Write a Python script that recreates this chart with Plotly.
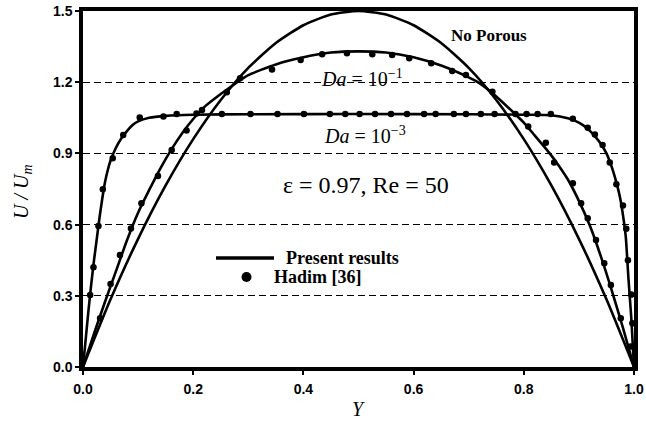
import plotly.graph_objects as go

# ---------------- data ----------------
# No porous (present results)
y_np = [0.0, 0.05, 0.10, 0.15, 0.20, 0.25, 0.30, 0.35, 0.40, 0.45, 0.50,
        0.55, 0.60, 0.65, 0.70, 0.75, 0.80, 0.85, 0.90, 0.95, 1.0]
u_np = [0.0, 0.285, 0.54, 0.765, 0.96, 1.125, 1.26, 1.365, 1.44, 1.485, 1.50,
        1.485, 1.44, 1.365, 1.26, 1.125, 0.96, 0.765, 0.54, 0.285, 0.0]

# Da = 1e-1 (present results)
y_d1 = [0.0, 0.02, 0.04, 0.06, 0.08, 0.10, 0.12, 0.14, 0.16, 0.18, 0.20, 0.22,
        0.25, 0.28, 0.30, 0.35, 0.40, 0.45, 0.50, 0.55, 0.60, 0.65, 0.70, 0.72,
        0.75, 0.78, 0.80, 0.82, 0.84, 0.86, 0.88, 0.90, 0.92, 0.94, 0.96, 0.98, 1.0]
u_d1 = [0.0, 0.14, 0.275, 0.405, 0.535, 0.65, 0.745, 0.835, 0.915, 0.985, 1.045, 1.095,
        1.15, 1.20, 1.23, 1.275, 1.305, 1.325, 1.33, 1.325, 1.305, 1.27, 1.22, 1.195,
        1.14, 1.075, 1.03, 0.975, 0.92, 0.86, 0.79, 0.70, 0.595, 0.465, 0.32, 0.165, 0.0]

# Da = 1e-3 (present results)
y_d3 = [0.0, 0.005, 0.01, 0.015, 0.02, 0.025, 0.03, 0.035, 0.04, 0.045, 0.05,
        0.06, 0.07, 0.08, 0.09, 0.10, 0.12, 0.15, 0.20, 0.30, 0.50, 0.70, 0.80,
        0.85, 0.88, 0.90, 0.91, 0.92, 0.93, 0.94, 0.95, 0.96, 0.97, 0.975, 0.98,
        0.985, 0.99, 0.995, 1.0]
u_d3 = [0.0, 0.12, 0.24, 0.35, 0.45, 0.54, 0.63, 0.71, 0.78, 0.83, 0.87,
        0.925, 0.965, 0.995, 1.02, 1.035, 1.05, 1.058, 1.063, 1.065, 1.066, 1.065, 1.063,
        1.061, 1.048, 1.03, 1.015, 0.995, 0.97, 0.94, 0.90, 0.84, 0.76, 0.71, 0.64,
        0.55, 0.37, 0.21, 0.0]

# Hadim [36] reference points
hy_d1 = [0.031, 0.05, 0.067, 0.087, 0.106, 0.136, 0.161, 0.188, 0.216, 0.261, 0.285,
         0.343, 0.395, 0.434, 0.479, 0.525, 0.561, 0.592, 0.632, 0.67, 0.695, 0.743,
         0.808, 0.84, 0.855, 0.889, 0.904, 0.916, 0.931, 0.946, 0.958, 0.976, 0.994]
hu_d1 = [0.205, 0.35, 0.472, 0.584, 0.69, 0.805, 0.914, 0.996, 1.083, 1.158, 1.217,
         1.254, 1.294, 1.318, 1.322, 1.318, 1.315, 1.301, 1.28, 1.247, 1.23, 1.16,
         1.013, 0.945, 0.862, 0.774, 0.69, 0.627, 0.535, 0.437, 0.346, 0.205, 0.086]

hy_d3 = [0.013, 0.019, 0.028, 0.036, 0.054, 0.073, 0.103, 0.146, 0.17, 0.206, 0.252,
         0.304, 0.353, 0.401, 0.448, 0.476, 0.502, 0.53, 0.559, 0.588, 0.619, 0.64,
         0.673, 0.695, 0.722, 0.747, 0.785, 0.805, 0.825, 0.849, 0.889, 0.916, 0.929,
         0.943, 0.956, 0.968, 0.98, 0.986, 0.989, 0.995, 0.997]
hu_d3 = [0.303, 0.42, 0.594, 0.749, 0.88, 0.978, 1.051, 1.055, 1.066, 1.068, 1.066,
         1.066, 1.066, 1.066, 1.066, 1.066, 1.066, 1.066, 1.066, 1.066, 1.066, 1.066,
         1.066, 1.066, 1.066, 1.066, 1.066, 1.066, 1.066, 1.066, 1.046, 1.008, 0.98,
         0.935, 0.862, 0.77, 0.68, 0.582, 0.45, 0.305, 0.184]

x_ticks = [0.0, 0.2, 0.4, 0.6, 0.8, 1.0]
y_ticks = [0.0, 0.3, 0.6, 0.9, 1.2, 1.5]

# ---------------- layout geometry ----------------
W, H = 646, 423
L, R, T, B = 83, 12, 11, 56
PW, PH = W - L - R, H - T - B


def px(x):
    return (x - L) / PW


def py(y):
    return (H - B - y) / PH


fig = go.Figure()
line_style = dict(color="black", width=2.6, shape="spline", smoothing=0.6)
for xs, ys in [(y_np, u_np), (y_d1, u_d1), (y_d3, u_d3)]:
    fig.add_trace(go.Scatter(x=xs, y=ys, mode="lines", line=line_style,
                             showlegend=False, hoverinfo="skip"))
for xs, ys in [(hy_d1, hu_d1), (hy_d3, hu_d3)]:
    fig.add_trace(go.Scatter(x=xs, y=ys, mode="markers",
                             marker=dict(color="black", size=6.5),
                             showlegend=False, hoverinfo="skip"))

tick_font = dict(family="Liberation Sans, Arial", size=14, color="black", weight="bold")
serif = "Liberation Serif, Times New Roman"

fig.update_xaxes(range=[0, 1], tickvals=x_ticks, ticktext=[f"{v:.1f}" for v in x_ticks],
                 showline=True, linecolor="black", linewidth=3.5, mirror=True,
                 ticks="outside", ticklen=4, tickwidth=1.5, tickcolor="black",
                 showgrid=False, zeroline=False, tickfont=tick_font,
                 ticklabelstandoff=2, automargin=False)
fig.update_yaxes(range=[0, 1.5], tickvals=y_ticks, ticktext=[f"{v:.1f}" for v in y_ticks],
                 showline=True, linecolor="black", linewidth=3.5, mirror=True,
                 ticks="outside", ticklen=4, tickwidth=1.5, tickcolor="black",
                 showgrid=True, gridcolor="black", gridwidth=1, griddash="7px,4px",
                 zeroline=False, tickfont=tick_font, automargin=False)


def label(xp, yp, text, size, anchor="center", angle=0):
    return dict(x=px(xp), y=py(yp), xref="paper", yref="paper", text=text,
                showarrow=False, xanchor=anchor, yanchor="middle", textangle=angle,
                font=dict(family=serif, size=size, color="black"))


ann = [
    label(358, 409, "<i>Y</i>", 20),
    label(22, 192, "<i>U / U<sub>m</sub></i>", 20, angle=-90),
    label(489, 35, "<b>No Porous</b>", 17),
    label(362, 78, "<i>Da</i> = 10<sup>−1</sup>", 20),
    label(365, 135, "<i>Da</i> = 10<sup>−3</sup>", 20),
    label(366, 185, "ε = 0.97, Re = 50", 24),
    label(284, 258, "<b>Present results</b>", 18, anchor="left"),
    label(272, 277, "<b>Hadim [36]</b>", 18, anchor="left"),
]

shapes = [
    dict(type="line", xref="paper", yref="paper", x0=px(216), x1=px(274),
         y0=py(258), y1=py(258), line=dict(color="black", width=3.5)),
    dict(type="circle", xref="paper", yref="paper", x0=px(241.5), x1=px(251.5),
         y0=py(272), y1=py(282), fillcolor="black", line=dict(color="black", width=0)),
]

fig.update_layout(width=W, height=H, margin=dict(l=L, r=R, t=T, b=B, autoexpand=False),
                  paper_bgcolor="white", plot_bgcolor="white",
                  annotations=ann, shapes=shapes, showlegend=False)

fig.write_html("out.html")
